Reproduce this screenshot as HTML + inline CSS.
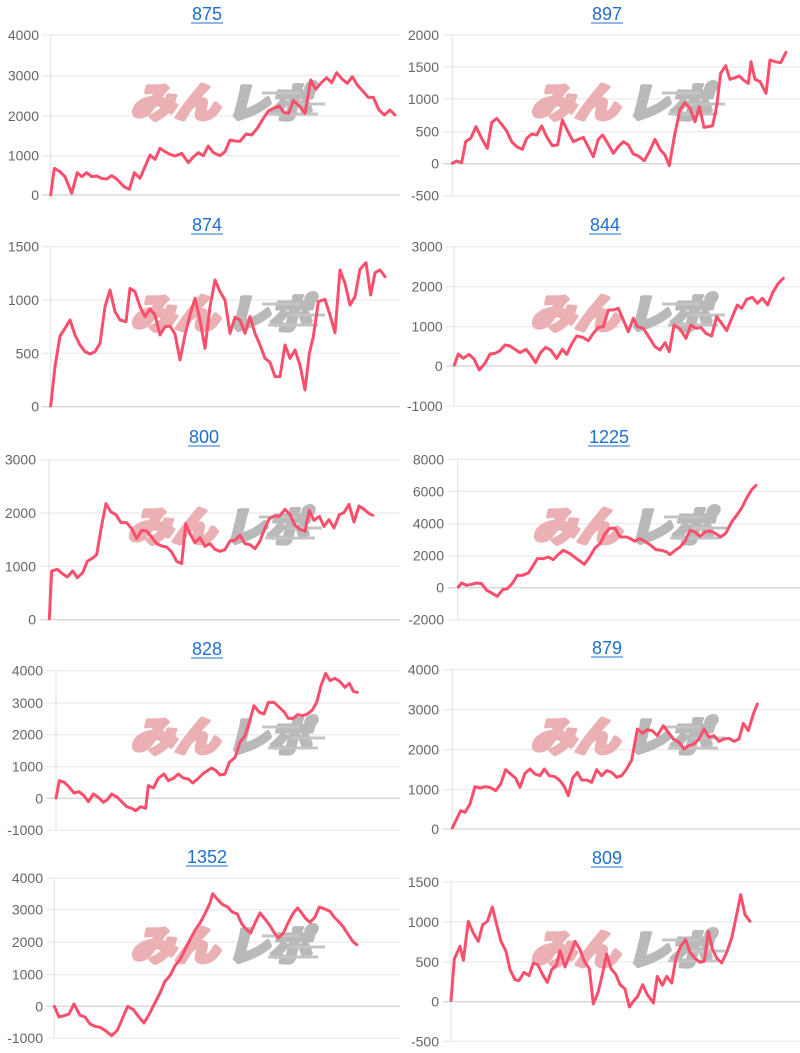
<!DOCTYPE html>
<html><head><meta charset="utf-8"><style>
html,body{margin:0;padding:0;background:#fff;}
svg{display:block;}
.t{font-family:"Liberation Sans",Arial,sans-serif;font-size:18px;fill:#1f6fcf;text-anchor:middle;}
.l{font-family:"Liberation Sans",Arial,sans-serif;font-size:14px;fill:#666;text-anchor:end;}
.g{stroke:#e6e6e6;stroke-width:1;}
.z{stroke:#c8c8c8;stroke-width:1;}
.ax{stroke:#e0e0e0;stroke-width:1;}
.s{fill:none;stroke:#f94f6c;stroke-width:9;stroke-linejoin:round;stroke-linecap:round;}
.wp{font-family:"Liberation Sans","Noto Sans CJK JP",sans-serif;font-weight:900;font-size:40px;fill:#ebb0b4;stroke:#ebb0b4;stroke-width:4;stroke-linejoin:round;}
.wg{font-family:"Liberation Sans","Noto Sans CJK JP",sans-serif;font-weight:900;font-size:40px;fill:#b9b9b9;stroke:#b9b9b9;stroke-width:4;stroke-linejoin:round;}
.wl{stroke:#c4c4c4;stroke-width:3;}
</style></head><body>
<svg width="800" height="1053" viewBox="0 0 800 1053" xmlns="http://www.w3.org/2000/svg">
<defs>
<g id="wm">
<g transform="skewX(-14)"><text class="wp" x="160" y="117" textLength="88" lengthAdjust="spacingAndGlyphs">みん</text>
<text class="wg" x="256" y="117" textLength="84" lengthAdjust="spacingAndGlyphs">レポ</text></g>
<line class="wl" x1="262" y1="93" x2="300" y2="93"/>
<line class="wl" x1="290" y1="104" x2="325" y2="104"/>
<line class="wl" x1="268" y1="114" x2="318" y2="114"/>
</g>
</defs>

<!-- Chart 1: 875 -->
<text class="t" x="207" y="20">875</text><line x1="191" y1="23" x2="223" y2="23" stroke="#1f6fcf" stroke-width="1"/>
<g>
<line class="g" x1="42" y1="35" x2="400" y2="35"/><line class="g" x1="42" y1="75.7" x2="400" y2="75.7"/><line class="g" x1="42" y1="116" x2="400" y2="116"/><line class="g" x1="42" y1="155.7" x2="400" y2="155.7"/><line class="z" x1="42" y1="195" x2="400" y2="195"/>
<line class="ax" x1="50.7" y1="35" x2="50.7" y2="195"/>
<text class="l" x="39" y="40">4000</text><text class="l" x="39" y="80.7">3000</text><text class="l" x="39" y="121">2000</text><text class="l" x="39" y="160.7">1000</text><text class="l" x="39" y="200">0</text>
</g>
<use href="#wm" transform="translate(0,0)"/>
<polyline class="s" transform="translate(0,0) scale(0.33333)" points="152,585 163,505 180,515 195,530 215,580 232,518 245,530 260,518 275,530 290,528 305,535 320,537 335,527 350,537 372,560 388,568 403,518 420,535 435,500 450,465 465,478 480,445 495,455 510,463 525,468 545,460 565,488 578,473 595,458 610,467 625,438 640,458 660,467 675,455 690,420 705,423 720,424 738,402 755,405 772,385 790,355 805,333 820,325 838,318 852,338 866,340 880,302 898,318 915,340 932,240 947,268 965,247 980,233 995,248 1010,218 1027,238 1042,250 1057,230 1072,255 1090,275 1105,292 1120,292 1137,330 1153,345 1170,330 1185,345"/>

<!-- Chart 2: 897 -->
<text class="t" x="607" y="20">897</text><line x1="591" y1="23" x2="623" y2="23" stroke="#1f6fcf" stroke-width="1"/>
<g>
<line class="g" x1="443" y1="35" x2="800" y2="35"/><line class="g" x1="443" y1="67" x2="800" y2="67"/><line class="g" x1="443" y1="99" x2="800" y2="99"/><line class="g" x1="443" y1="131.7" x2="800" y2="131.7"/><line class="z" x1="443" y1="163.7" x2="800" y2="163.7"/><line class="g" x1="443" y1="195.7" x2="800" y2="195.7"/>
<line class="ax" x1="452.3" y1="35" x2="452.3" y2="195.7"/>
<text class="l" x="439" y="40">2000</text><text class="l" x="439" y="72">1500</text><text class="l" x="439" y="104">1000</text><text class="l" x="439" y="136.7">500</text><text class="l" x="439" y="168.7">0</text><text class="l" x="439" y="200.7">-500</text>
</g>
<use href="#wm" transform="translate(400,0)"/>
<polyline class="s" transform="translate(400,0) scale(0.33333)" points="157,490 170,483 185,488 197,425 212,415 228,380 245,415 262,445 275,368 290,355 305,373 320,393 335,425 350,440 367,448 380,415 395,402 410,405 425,378 440,410 457,437 473,435 487,360 503,393 520,425 535,418 550,412 567,445 580,470 595,418 608,405 625,433 640,460 655,440 670,425 685,435 700,462 715,468 733,482 748,455 765,418 780,448 795,465 808,497 822,415 840,328 855,308 870,325 885,365 898,320 912,382 925,380 938,377 950,318 962,220 977,197 990,238 1005,233 1018,228 1030,240 1045,250 1053,185 1065,238 1080,245 1098,280 1110,180 1125,185 1142,188 1158,157"/>

<!-- Chart 3: 874 -->
<text class="t" x="207" y="231">874</text><line x1="191" y1="234" x2="223" y2="234" stroke="#1f6fcf" stroke-width="1"/>
<g>
<line class="g" x1="42" y1="246.7" x2="400" y2="246.7"/><line class="g" x1="42" y1="300" x2="400" y2="300"/><line class="g" x1="42" y1="353.3" x2="400" y2="353.3"/><line class="z" x1="42" y1="406.7" x2="400" y2="406.7"/>
<line class="ax" x1="50.7" y1="246.7" x2="50.7" y2="406.7"/>
<text class="l" x="39" y="251.7">1500</text><text class="l" x="39" y="305">1000</text><text class="l" x="39" y="358.3">500</text><text class="l" x="39" y="411.7">0</text>
</g>
<use href="#wm" transform="translate(0,211)"/>
<polyline class="s" transform="translate(0,210) scale(0.33333)" points="152,588 165,470 180,378 195,355 210,330 225,375 240,405 255,425 270,432 285,425 300,400 315,290 330,240 345,305 360,330 378,335 390,235 405,245 420,290 435,320 450,297 465,315 480,375 495,350 510,348 525,372 540,450 555,375 570,315 585,265 600,330 615,415 630,290 645,210 660,245 675,270 690,370 705,322 720,330 735,370 750,320 765,370 780,405 795,445 810,457 825,500 840,500 855,405 870,445 885,420 900,465 915,540 928,430 940,380 955,275 975,268 990,315 1005,368 1020,180 1035,220 1050,285 1065,260 1080,178 1098,158 1112,255 1125,188 1140,180 1155,200"/>

<!-- Chart 4: 844 -->
<text class="t" x="605" y="231">844</text><line x1="589" y1="234" x2="621" y2="234" stroke="#1f6fcf" stroke-width="1"/>
<g>
<line class="g" x1="446" y1="246.7" x2="800" y2="246.7"/><line class="g" x1="446" y1="286.7" x2="800" y2="286.7"/><line class="g" x1="446" y1="326.7" x2="800" y2="326.7"/><line class="z" x1="446" y1="366" x2="800" y2="366"/><line class="g" x1="446" y1="406" x2="800" y2="406"/>
<line class="ax" x1="454" y1="246.7" x2="454" y2="406"/>
<text class="l" x="442.7" y="251.7">3000</text><text class="l" x="442.7" y="291.7">2000</text><text class="l" x="442.7" y="331.7">1000</text><text class="l" x="442.7" y="371">0</text><text class="l" x="442.7" y="411">-1000</text>
</g>
<use href="#wm" transform="translate(400,211)"/>
<polyline class="s" transform="translate(400,210) scale(0.33333)" points="163,465 175,432 190,445 207,433 222,447 238,480 255,460 270,432 285,430 300,422 315,405 330,408 345,418 360,428 378,418 392,435 407,458 420,430 437,412 452,420 470,445 487,418 500,433 515,402 530,378 548,382 565,392 580,370 595,352 610,350 625,300 640,300 655,295 670,330 685,365 700,325 712,350 730,355 748,383 765,410 780,420 795,398 808,425 822,345 840,357 858,385 872,345 888,355 903,353 918,370 935,378 950,320 965,340 980,362 995,325 1012,285 1025,295 1040,268 1057,262 1072,280 1087,265 1103,285 1118,248 1135,220 1150,205"/>

<!-- Chart 5: 800 -->
<text class="t" x="204" y="443">800</text><line x1="188" y1="446" x2="220" y2="446" stroke="#1f6fcf" stroke-width="1"/>
<g>
<line class="g" x1="40" y1="459.7" x2="400" y2="459.7"/><line class="g" x1="40" y1="513" x2="400" y2="513"/><line class="g" x1="40" y1="566.3" x2="400" y2="566.3"/><line class="z" x1="40" y1="619.7" x2="400" y2="619.7"/>
<line class="ax" x1="49" y1="459.7" x2="49" y2="619.7"/>
<text class="l" x="36" y="464.7">3000</text><text class="l" x="36" y="518">2000</text><text class="l" x="36" y="571.3">1000</text><text class="l" x="36" y="624.7">0</text>
</g>
<use href="#wm" transform="translate(-3,424)"/>
<polyline class="s" transform="translate(0,422) scale(0.33333)" points="148,590 155,447 172,442 187,455 202,465 218,447 232,467 248,452 262,418 278,408 290,398 305,310 318,245 333,270 348,278 363,302 380,302 395,320 410,350 425,325 440,327 455,345 470,365 485,372 500,375 515,390 530,418 545,425 557,305 570,335 585,362 600,347 615,373 630,365 645,382 660,388 675,383 690,357 705,355 720,340 735,365 750,368 765,380 780,357 795,318 808,290 822,282 838,283 855,262 870,278 885,310 900,322 915,328 928,265 942,295 958,283 972,313 987,293 1002,318 1018,278 1032,272 1047,247 1062,300 1077,252 1092,262 1108,275 1118,280"/>

<!-- Chart 6: 1225 -->
<text class="t" x="609" y="443">1225</text><line x1="588" y1="446" x2="630" y2="446" stroke="#1f6fcf" stroke-width="1"/>
<g>
<line class="g" x1="448" y1="459.3" x2="800" y2="459.3"/><line class="g" x1="448" y1="491.3" x2="800" y2="491.3"/><line class="g" x1="448" y1="523.7" x2="800" y2="523.7"/><line class="g" x1="448" y1="555.7" x2="800" y2="555.7"/><line class="z" x1="448" y1="587.7" x2="800" y2="587.7"/><line class="g" x1="448" y1="619.7" x2="800" y2="619.7"/>
<line class="ax" x1="457.7" y1="459.3" x2="457.7" y2="619.7"/>
<text class="l" x="444" y="464.3">8000</text><text class="l" x="444" y="496.3">6000</text><text class="l" x="444" y="528.7">4000</text><text class="l" x="444" y="560.7">2000</text><text class="l" x="444" y="592.7">0</text><text class="l" x="444" y="624.7">-2000</text>
</g>
<use href="#wm" transform="translate(402,424)"/>
<polyline class="s" transform="translate(400,422) scale(0.33333)" points="175,495 185,483 200,490 215,487 230,483 245,485 260,505 275,513 292,523 308,503 322,500 338,483 352,460 367,460 385,453 400,430 412,410 430,410 445,405 460,413 472,400 490,385 510,395 530,410 553,427 570,403 585,378 600,365 615,335 628,320 645,318 660,345 680,345 692,350 705,358 720,350 738,360 752,370 768,383 785,385 800,390 810,398 825,385 840,375 855,358 870,325 885,330 900,343 915,330 930,327 945,333 962,345 978,333 995,300 1010,280 1025,258 1040,228 1055,203 1068,190"/>

<!-- Chart 7: 828 -->
<text class="t" x="207" y="655">828</text><line x1="191" y1="658" x2="223" y2="658" stroke="#1f6fcf" stroke-width="1"/>
<g>
<line class="g" x1="47" y1="670.7" x2="400" y2="670.7"/><line class="g" x1="47" y1="703" x2="400" y2="703"/><line class="g" x1="47" y1="734.7" x2="400" y2="734.7"/><line class="g" x1="47" y1="766.7" x2="400" y2="766.7"/><line class="z" x1="47" y1="798.3" x2="400" y2="798.3"/><line class="g" x1="47" y1="830" x2="400" y2="830"/>
<line class="ax" x1="56" y1="670.7" x2="56" y2="830"/>
<text class="l" x="43" y="675.7">4000</text><text class="l" x="43" y="708">3000</text><text class="l" x="43" y="739.7">2000</text><text class="l" x="43" y="771.7">1000</text><text class="l" x="43" y="803.3">0</text><text class="l" x="43" y="835">-1000</text>
</g>
<use href="#wm" transform="translate(0,634)"/>
<polyline class="s" transform="translate(0,634) scale(0.33333)" points="168,492 178,440 193,445 208,460 222,477 237,473 252,485 265,503 280,480 295,490 310,505 322,497 335,480 352,490 365,503 380,518 395,523 407,530 422,518 437,523 445,455 460,462 475,433 492,420 505,440 520,433 535,420 550,432 565,435 578,447 593,435 608,420 622,410 635,402 648,410 660,423 675,420 688,385 705,370 720,325 735,305 748,265 762,215 778,235 792,240 805,205 822,205 838,220 852,233 865,253 880,253 893,242 908,245 922,240 937,228 950,205 963,155 977,118 990,140 1005,133 1020,143 1035,160 1048,148 1060,172 1072,175"/>

<!-- Chart 8: 879 -->
<text class="t" x="607" y="654">879</text><line x1="591" y1="657" x2="623" y2="657" stroke="#1f6fcf" stroke-width="1"/>
<g>
<line class="g" x1="443" y1="669.7" x2="800" y2="669.7"/><line class="g" x1="443" y1="709.7" x2="800" y2="709.7"/><line class="g" x1="443" y1="749.7" x2="800" y2="749.7"/><line class="g" x1="443" y1="789.7" x2="800" y2="789.7"/><line class="z" x1="443" y1="829" x2="800" y2="829"/>
<line class="ax" x1="452.3" y1="669.7" x2="452.3" y2="829"/>
<text class="l" x="439" y="674.7">4000</text><text class="l" x="439" y="714.7">3000</text><text class="l" x="439" y="754.7">2000</text><text class="l" x="439" y="794.7">1000</text><text class="l" x="439" y="834">0</text>
</g>
<use href="#wm" transform="translate(400,634)"/>
<polyline class="s" transform="translate(400,634) scale(0.33333)" points="157,582 170,555 182,530 195,535 210,510 225,458 240,462 255,458 270,460 287,470 302,450 317,407 332,420 347,433 360,460 375,418 390,405 405,420 420,425 433,405 448,425 465,428 480,440 493,458 505,485 518,432 532,415 545,438 560,438 575,445 590,407 605,425 620,410 635,415 650,430 665,425 680,405 695,378 712,285 728,298 742,287 757,290 772,305 790,275 805,295 820,315 837,325 852,345 867,335 882,330 897,315 912,285 927,310 942,305 957,322 972,315 987,313 1002,322 1017,315 1030,268 1045,290 1060,240 1072,210"/>

<!-- Chart 9: 1352 -->
<text class="t" x="207" y="863">1352</text><line x1="186" y1="866" x2="228" y2="866" stroke="#1f6fcf" stroke-width="1"/>
<g>
<line class="g" x1="47" y1="878" x2="400" y2="878"/><line class="g" x1="47" y1="909.7" x2="400" y2="909.7"/><line class="g" x1="47" y1="942" x2="400" y2="942"/><line class="g" x1="47" y1="974.7" x2="400" y2="974.7"/><line class="z" x1="47" y1="1006.3" x2="400" y2="1006.3"/><line class="g" x1="47" y1="1038" x2="400" y2="1038"/>
<line class="ax" x1="54.3" y1="878" x2="54.3" y2="1038"/>
<text class="l" x="43" y="883">4000</text><text class="l" x="43" y="914.7">3000</text><text class="l" x="43" y="947">2000</text><text class="l" x="43" y="979.7">1000</text><text class="l" x="43" y="1011.3">0</text><text class="l" x="43" y="1043">-1000</text>
</g>
<use href="#wm" transform="translate(0,843)"/>
<polyline class="s" transform="translate(0,843) scale(0.33333)" points="163,490 177,522 192,518 207,513 222,483 240,517 255,522 270,543 285,550 300,553 315,562 335,578 352,562 367,527 383,490 400,500 415,520 432,540 447,515 462,485 480,450 495,415 510,398 525,368 540,350 555,320 570,290 585,262 600,240 615,212 630,180 638,152 655,172 668,185 683,192 697,207 712,213 725,242 740,260 752,270 765,240 780,210 795,228 810,248 822,268 835,285 850,270 865,238 880,210 893,195 905,210 918,228 930,238 945,222 958,192 972,197 990,205 1002,222 1017,237 1030,252 1045,275 1058,295 1070,305"/>

<!-- Chart 10: 809 -->
<text class="t" x="607" y="864">809</text><line x1="591" y1="867" x2="623" y2="867" stroke="#1f6fcf" stroke-width="1"/>
<g>
<line class="g" x1="443" y1="882" x2="800" y2="882"/><line class="g" x1="443" y1="922" x2="800" y2="922"/><line class="g" x1="443" y1="962" x2="800" y2="962"/><line class="z" x1="443" y1="1001.7" x2="800" y2="1001.7"/><line class="g" x1="443" y1="1041.3" x2="800" y2="1041.3"/>
<line class="ax" x1="451" y1="882" x2="451" y2="1041.3"/>
<text class="l" x="439" y="887">1500</text><text class="l" x="439" y="927">1000</text><text class="l" x="439" y="967">500</text><text class="l" x="439" y="1006.7">0</text><text class="l" x="439" y="1046.3">-500</text>
</g>
<use href="#wm" transform="translate(400,847)"/>
<polyline class="s" transform="translate(400,843) scale(0.33333)" points="153,472 163,348 180,310 190,352 205,235 220,270 235,295 248,245 262,235 277,192 290,245 303,295 318,325 330,380 345,410 357,413 372,388 387,398 400,360 413,365 428,395 442,418 455,380 470,365 480,323 495,372 510,335 525,295 540,320 553,355 568,377 580,483 595,445 608,390 620,333 633,377 648,395 660,425 675,438 688,492 700,475 713,460 728,425 742,455 760,480 772,400 787,427 800,400 815,420 828,345 842,310 857,290 870,328 887,348 900,358 913,355 925,265 937,318 950,345 965,360 980,328 995,285 1010,215 1022,155 1035,215 1050,235"/>
</svg>
</body></html>
